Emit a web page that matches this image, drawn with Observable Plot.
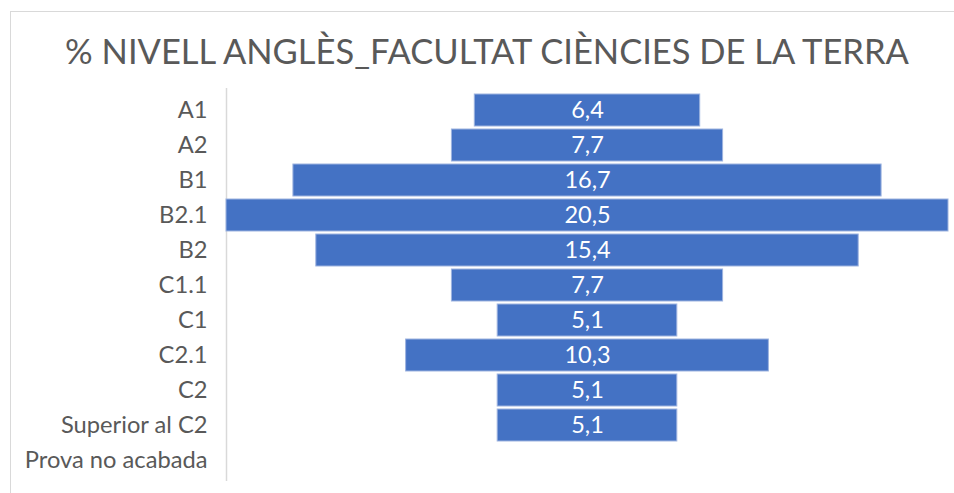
<!DOCTYPE html>
<html>
<head>
<meta charset="utf-8">
<script src="https://cdn.jsdelivr.net/npm/d3@7"></script>
<script src="https://cdn.jsdelivr.net/npm/@observablehq/plot@0.6"></script>
<style>
  html, body { margin: 0; padding: 0; background: #fff; }
  #wrap { position: relative; width: 954px; height: 493px; overflow: hidden; font-family: Lato, "Liberation Sans", sans-serif; }
  #frameTop { position: absolute; left: 10px; top: 11px; width: 944px; height: 1px; background: #d9d9d9; }
  #frameLeft { position: absolute; left: 10px; top: 11px; width: 1px; height: 482px; background: #d9d9d9; }
  #title { position: absolute; left: 0; top: 0; width: 974px; height: 80px; text-align: center; line-height: 102px; font-size: 34.5px; color: #595959; white-space: nowrap; }
  #chart { position: absolute; left: 0; top: 80px; }
</style>
</head>
<body>
<div id="wrap">
  <div id="frameTop"></div>
  <div id="frameLeft"></div>
  <div id="title">% NIVELL ANGLÈS_FACULTAT CIÈNCIES DE LA TERRA</div>
  <div id="chart"></div>
</div>
<script>
const categories = ["A1", "A2", "B1", "B2.1", "B2", "C1.1", "C1", "C2.1", "C2", "Superior al C2", "Prova no acabada"];
const values = [6.4, 7.7, 16.7, 20.5, 15.4, 7.7, 5.1, 10.3, 5.1, 5.1, null];

const rows = categories.map((c, i) => ({category: c, value: values[i]}));
const shown = rows.filter(d => d.value != null);
const maxV = d3.max(values);
const fmt = v => v.toFixed(1).replace(".", ",");

const plot = Plot.plot({
  width: 954,
  height: 413,
  marginLeft: 226,
  marginRight: 6,
  marginTop: 8,
  marginBottom: 12,
  style: {fontFamily: "Lato, 'Liberation Sans', sans-serif", fontSize: "23.7px", color: "#595959", background: "transparent"},
  x: {domain: [-maxV / 2, maxV / 2], axis: null},
  y: {domain: categories, padding: 0.1, label: null},
  marks: [
    Plot.ruleX([-maxV / 2], {stroke: "#d9d9d9", strokeWidth: 1.5}),
    Plot.barX(shown, {
      x1: d => -d.value / 2,
      x2: d => d.value / 2,
      y: "category",
      fill: "#4472C4",
      stroke: "#9db3df",
      strokeWidth: 1
    }),
    Plot.text(shown, {
      x: 0,
      y: "category",
      text: d => fmt(d.value),
      fill: "white",
      fontSize: 23.5
    }),
    Plot.axisY({tickSize: 0, tickPadding: 19, fontSize: 23.7, fill: "#595959", label: null})
  ]
});
document.getElementById("chart").appendChild(plot);
</script>
</body>
</html>
